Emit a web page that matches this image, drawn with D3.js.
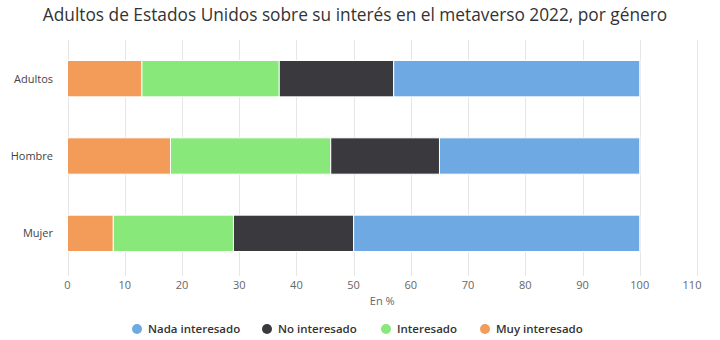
<!DOCTYPE html>
<html><head><meta charset="utf-8">
<script src="https://cdn.jsdelivr.net/npm/d3@7"></script>
<style>body{margin:0;background:#fff;} svg{display:block;}</style>
</head><body>
<svg id="c" width="720" height="340"></svg>
<script>
const categories = ["Adultos", "Hombre", "Mujer"];
const seriesNames = ["Muy interesado", "Interesado", "No interesado", "Nada interesado"];
const muyInteresado = [13, 18, 8];
const interesado = [24, 28, 21];
const noInteresado = [20, 19, 21];
const nadaInteresado = [43, 35, 50];
const xTicks = [0,10,20,30,40,50,60,70,80,90,100,110];
const colors = {"Nada interesado":"#6ea9e3","No interesado":"#3a3a3e","Interesado":"#88e87a","Muy interesado":"#f39b58"};
const legendOrder = ["Nada interesado","No interesado","Interesado","Muy interesado"];

(function(){
const values = {"Muy interesado":muyInteresado,"Interesado":interesado,"No interesado":noInteresado,"Nada interesado":nadaInteresado};
const rows = categories.map((c,i)=>{const r={cat:c}; seriesNames.forEach(s=>r[s]=values[s][i]); return r;});
const stacked = d3.stack().keys(seriesNames)(rows);

const svg = d3.select("#c");
const font = "'Open Sans', sans-serif";
const mLeft = 67.5, mRight = 697, mTop = 40, mBottom = 272;
const x = d3.scaleLinear().domain([0,110]).range([mLeft,mRight]);
const y = d3.scaleBand().domain(categories).range([mTop,mBottom]).paddingInner(0.53).paddingOuter(0.265);

svg.append("text").attr("x",355).attr("y",21).attr("text-anchor","middle")
  .attr("font-family",font).attr("font-size",17.3).attr("fill","#333")
  .text("Adultos de Estados Unidos sobre su interés en el metaverso 2022, por género");

svg.append("g").selectAll("line").data(xTicks).join("line")
  .attr("x1",d=>Math.round(x(d))+0.5).attr("x2",d=>Math.round(x(d))+0.5)
  .attr("y1",mTop).attr("y2",276).attr("stroke","#e6e6e6").attr("stroke-width",1);

svg.append("g").selectAll("text").data(xTicks).join("text")
  .attr("x",d=>d===110? x(d)-5 : x(d)).attr("y",289).attr("text-anchor","middle")
  .attr("font-family",font).attr("font-size",11).attr("fill","#666").text(d=>d);

svg.append("text").attr("x",(mLeft+mRight)/2).attr("y",305).attr("text-anchor","middle")
  .attr("font-family",font).attr("font-size",11).attr("fill","#666").text("En %");

svg.append("g").selectAll("text").data(categories).join("text")
  .attr("x",53).attr("y",d=>y(d)+y.bandwidth()/2+4).attr("text-anchor","end")
  .attr("font-family",font).attr("font-size",11).attr("fill","#444").text(d=>d);

svg.append("g").selectAll("g").data(stacked).join("g")
  .attr("fill",d=>colors[d.key])
  .selectAll("rect").data(d=>d).join("rect")
  .attr("x",d=>x(d[0])).attr("width",d=>x(d[1])-x(d[0]))
  .attr("y",d=>y(d.data.cat)).attr("height",y.bandwidth())
  .attr("stroke","#fff").attr("stroke-width",1);

const lg = svg.append("g");
const legendX = [137, 267, 386, 485];
legendOrder.forEach((s,i)=>{
  lg.append("circle").attr("cx",legendX[i]).attr("cy",329).attr("r",5).attr("fill",colors[s]);
  lg.append("text").attr("x",legendX[i]+11).attr("y",333).attr("font-family",font)
    .attr("font-size",11.5).attr("font-weight",600).attr("fill","#333").text(s);
});
})();
</script>
</body></html>
